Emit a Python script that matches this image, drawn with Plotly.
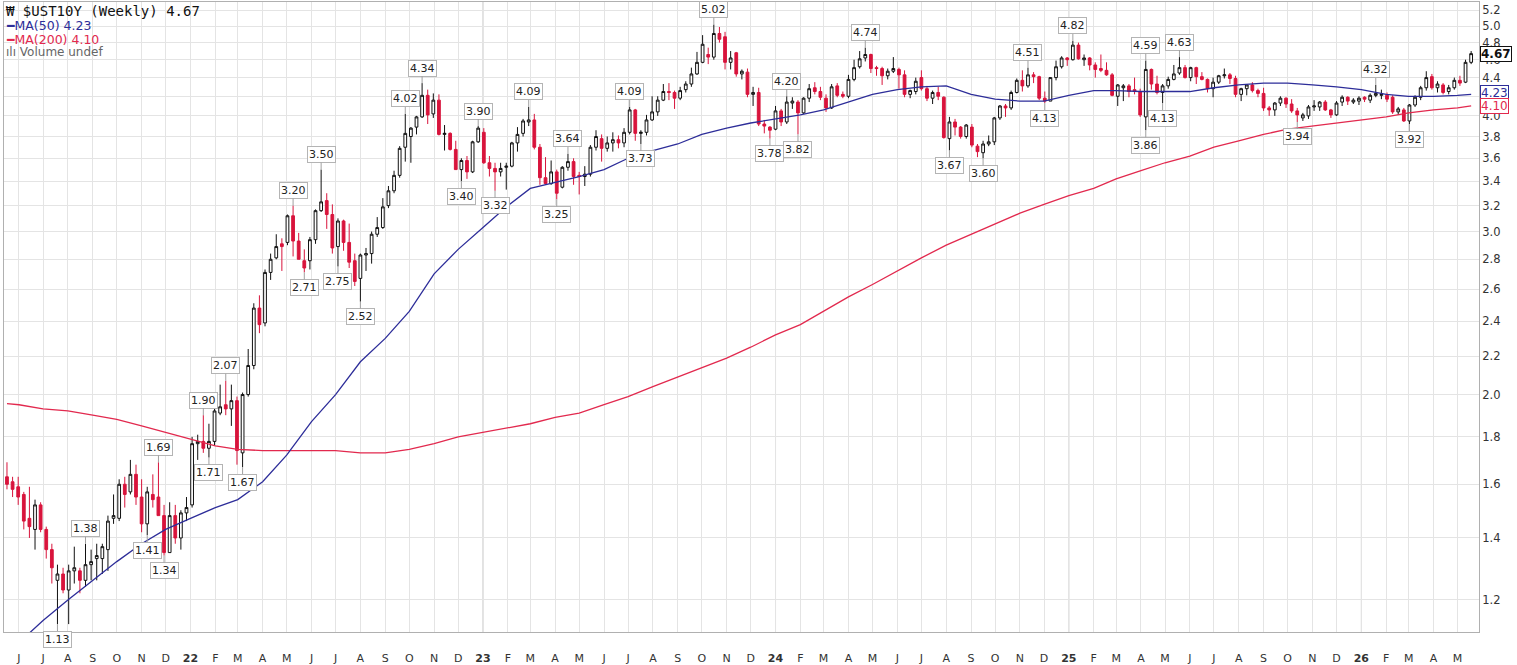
import numpy as np
import pandas as pd
import plotly.graph_objects as go

# weekly OHLC of $UST10Y, first bar = week of 2021-05-17
week_open = [
    1.63, 1.61, 1.59, 1.56, 1.47, 1.43, 1.52, 1.43, 1.36, 1.26, 1.28, 1.23, 1.29, 1.29, 1.26, 1.31, 1.33, 1.33, 1.36, 1.47,
    1.47, 1.60, 1.57, 1.64, 1.55, 1.45, 1.56, 1.55, 1.48, 1.35, 1.48, 1.40, 1.49, 1.52, 1.77, 1.78, 1.75, 1.78, 1.91, 1.95,
    1.93, 1.97, 1.73, 2.00, 2.15, 2.48, 2.39, 2.71, 2.81, 2.91, 2.92, 3.12, 2.93, 2.79, 2.79, 2.94, 3.16, 3.24, 3.13, 2.89,
    3.08, 2.92, 2.79, 2.67, 2.83, 2.84, 2.98, 3.03, 3.20, 3.32, 3.45, 3.70, 3.80, 3.89, 3.99, 4.21, 4.02, 4.16, 3.82, 3.83,
    3.68, 3.50, 3.58, 3.48, 3.75, 3.84, 3.56, 3.51, 3.48, 3.52, 3.53, 3.74, 3.83, 3.94, 3.96, 3.70, 3.43, 3.38, 3.48, 3.35,
    3.52, 3.57, 3.45, 3.44, 3.46, 3.70, 3.78, 3.69, 3.74, 3.77, 3.74, 3.84, 4.06, 3.83, 3.84, 3.96, 4.04, 4.16, 4.25, 4.24,
    4.18, 4.27, 4.33, 4.44, 4.57, 4.66, 4.63, 4.91, 4.87, 4.57, 4.68, 4.44, 4.46, 4.22, 4.24, 3.92, 3.89, 3.87, 4.05, 3.94,
    4.13, 4.14, 4.03, 4.18, 4.29, 4.25, 4.18, 4.08, 4.31, 4.22, 4.20, 4.38, 4.52, 4.62, 4.66, 4.51, 4.50, 4.42, 4.47, 4.49,
    4.43, 4.22, 4.25, 4.40, 4.28, 4.18, 4.24, 4.19, 3.78, 3.94, 3.89, 3.80, 3.89, 3.71, 3.65, 3.73, 3.75, 3.98, 4.10, 4.08,
    4.24, 4.37, 4.31, 4.43, 4.41, 4.18, 4.15, 4.40, 4.52, 4.62, 4.60, 4.77, 4.60, 4.62, 4.54, 4.50, 4.48, 4.43, 4.20, 4.29,
    4.31, 4.27, 4.25, 3.99, 4.49, 4.33, 4.24, 4.31, 4.38, 4.45, 4.51, 4.40, 4.51, 4.41, 4.38, 4.28, 4.35, 4.42, 4.43, 4.39,
    4.22, 4.28, 4.32, 4.26, 4.23, 4.08, 4.06, 4.13, 4.18, 4.12, 4.05, 3.98, 4.00, 4.09, 4.09, 4.14, 4.06, 4.01, 4.14, 4.19,
    4.14, 4.15, 4.19, 4.16, 4.21, 4.21, 4.21, 4.19, 4.04, 4.06, 3.95, 4.11, 4.19, 4.29, 4.41, 4.29, 4.32, 4.25, 4.29, 4.37,
    4.35, 4.57,
]
week_high = [
    1.69, 1.63, 1.63, 1.57, 1.59, 1.54, 1.53, 1.44, 1.38, 1.31, 1.30, 1.31, 1.37, 1.30, 1.38, 1.36, 1.38, 1.38, 1.48, 1.56,
    1.62, 1.63, 1.70, 1.68, 1.62, 1.59, 1.64, 1.69, 1.52, 1.53, 1.52, 1.50, 1.55, 1.80, 1.81, 1.90, 1.86, 1.93, 2.05, 2.07,
    2.05, 1.99, 2.01, 2.24, 2.51, 2.56, 2.73, 2.84, 2.98, 2.95, 3.13, 3.20, 2.99, 2.87, 2.96, 3.17, 3.50, 3.30, 3.21, 3.10,
    3.09, 3.06, 2.84, 2.84, 2.88, 3.00, 3.11, 3.26, 3.36, 3.49, 3.71, 4.02, 3.89, 4.00, 4.34, 4.27, 4.23, 4.22, 3.91, 3.84,
    3.76, 3.60, 3.62, 3.76, 3.90, 3.88, 3.62, 3.56, 3.56, 3.56, 3.75, 3.89, 3.97, 4.09, 4.02, 3.73, 3.61, 3.58, 3.50, 3.53,
    3.64, 3.60, 3.48, 3.53, 3.72, 3.86, 3.82, 3.80, 3.84, 3.81, 3.88, 4.09, 4.07, 3.86, 4.01, 4.20, 4.20, 4.33, 4.34, 4.26,
    4.30, 4.36, 4.51, 4.69, 4.89, 4.74, 5.02, 4.99, 4.93, 4.70, 4.69, 4.49, 4.50, 4.30, 4.29, 3.96, 3.90, 4.10, 4.07, 4.20,
    4.19, 4.16, 4.19, 4.33, 4.35, 4.30, 4.22, 4.33, 4.34, 4.25, 4.43, 4.60, 4.70, 4.74, 4.67, 4.53, 4.52, 4.50, 4.63, 4.51,
    4.48, 4.27, 4.40, 4.48, 4.31, 4.26, 4.30, 4.20, 3.99, 3.97, 3.90, 3.92, 3.92, 3.73, 3.76, 3.81, 3.99, 4.11, 4.12, 4.26,
    4.39, 4.48, 4.51, 4.46, 4.42, 4.25, 4.40, 4.59, 4.64, 4.63, 4.82, 4.80, 4.66, 4.63, 4.57, 4.66, 4.57, 4.45, 4.33, 4.33,
    4.33, 4.40, 4.28, 4.59, 4.50, 4.42, 4.33, 4.41, 4.54, 4.63, 4.54, 4.52, 4.52, 4.46, 4.39, 4.40, 4.43, 4.50, 4.45, 4.42,
    4.29, 4.33, 4.35, 4.28, 4.29, 4.10, 4.14, 4.20, 4.19, 4.17, 4.08, 4.03, 4.11, 4.16, 4.15, 4.16, 4.07, 4.15, 4.21, 4.20,
    4.18, 4.20, 4.20, 4.23, 4.32, 4.27, 4.24, 4.21, 4.09, 4.08, 4.12, 4.21, 4.31, 4.47, 4.44, 4.36, 4.34, 4.32, 4.40, 4.42,
    4.60, 4.70,
]
week_low = [
    1.58, 1.55, 1.52, 1.43, 1.40, 1.36, 1.42, 1.33, 1.25, 1.13, 1.22, 1.13, 1.25, 1.22, 1.24, 1.26, 1.26, 1.28, 1.29, 1.45,
    1.46, 1.51, 1.56, 1.52, 1.42, 1.41, 1.51, 1.48, 1.34, 1.35, 1.38, 1.36, 1.46, 1.51, 1.70, 1.73, 1.71, 1.76, 1.90, 1.90,
    1.85, 1.68, 1.67, 1.99, 2.13, 2.33, 2.37, 2.66, 2.80, 2.72, 2.90, 2.82, 2.80, 2.71, 2.73, 2.91, 3.15, 3.02, 2.84, 2.75,
    2.86, 2.74, 2.62, 2.52, 2.72, 2.77, 2.96, 3.02, 3.18, 3.30, 3.43, 3.57, 3.56, 3.82, 3.98, 3.92, 3.98, 3.81, 3.67, 3.67,
    3.50, 3.40, 3.42, 3.47, 3.74, 3.55, 3.44, 3.32, 3.44, 3.33, 3.52, 3.66, 3.80, 3.90, 3.68, 3.37, 3.37, 3.37, 3.25, 3.34,
    3.49, 3.37, 3.29, 3.36, 3.44, 3.67, 3.57, 3.66, 3.66, 3.69, 3.70, 3.82, 3.76, 3.73, 3.81, 3.95, 4.00, 4.15, 4.16, 4.07,
    4.16, 4.24, 4.30, 4.43, 4.56, 4.55, 4.60, 4.80, 4.49, 4.49, 4.41, 4.38, 4.19, 4.10, 3.90, 3.83, 3.78, 3.86, 3.90, 3.92,
    4.07, 3.82, 4.02, 4.14, 4.22, 4.16, 4.04, 4.07, 4.19, 4.18, 4.18, 4.36, 4.50, 4.58, 4.45, 4.42, 4.32, 4.38, 4.45, 4.28,
    4.19, 4.18, 4.22, 4.26, 4.15, 4.12, 4.16, 3.78, 3.67, 3.81, 3.78, 3.78, 3.70, 3.61, 3.60, 3.71, 3.72, 3.96, 3.99, 4.06,
    4.23, 4.25, 4.29, 4.34, 4.16, 4.13, 4.15, 4.37, 4.50, 4.53, 4.59, 4.60, 4.53, 4.48, 4.40, 4.46, 4.42, 4.20, 4.10, 4.15,
    4.19, 4.22, 3.99, 3.86, 4.27, 4.22, 4.13, 4.28, 4.37, 4.43, 4.39, 4.36, 4.33, 4.37, 4.24, 4.19, 4.33, 4.39, 4.33, 4.19,
    4.15, 4.21, 4.24, 4.19, 4.05, 4.00, 4.00, 4.10, 4.08, 4.03, 3.94, 3.95, 3.97, 4.05, 4.05, 4.05, 3.98, 4.00, 4.10, 4.11,
    4.12, 4.11, 4.14, 4.13, 4.19, 4.17, 4.14, 4.02, 4.01, 3.94, 3.92, 4.09, 4.16, 4.26, 4.27, 4.24, 4.22, 4.22, 4.27, 4.31,
    4.34, 4.55,
]
week_close = [
    1.60, 1.58, 1.55, 1.46, 1.44, 1.52, 1.43, 1.36, 1.30, 1.28, 1.23, 1.29, 1.30, 1.26, 1.31, 1.32, 1.34, 1.37, 1.46, 1.48,
    1.60, 1.56, 1.64, 1.55, 1.45, 1.57, 1.54, 1.48, 1.35, 1.48, 1.40, 1.49, 1.51, 1.77, 1.78, 1.75, 1.78, 1.92, 1.94, 1.93,
    1.97, 1.74, 2.00, 2.15, 2.48, 2.38, 2.71, 2.80, 2.89, 2.89, 3.12, 2.93, 2.80, 2.74, 2.94, 3.16, 3.23, 3.13, 2.88, 3.08,
    2.92, 2.78, 2.65, 2.83, 2.84, 2.98, 3.03, 3.19, 3.32, 3.45, 3.69, 3.83, 3.88, 3.99, 4.21, 4.01, 4.16, 3.82, 3.83, 3.68,
    3.50, 3.58, 3.48, 3.75, 3.88, 3.56, 3.51, 3.48, 3.51, 3.53, 3.74, 3.82, 3.95, 3.96, 3.70, 3.43, 3.38, 3.48, 3.30, 3.52,
    3.57, 3.44, 3.44, 3.46, 3.70, 3.80, 3.69, 3.74, 3.77, 3.74, 3.84, 4.06, 3.83, 3.84, 3.96, 4.04, 4.16, 4.25, 4.24, 4.18,
    4.26, 4.33, 4.44, 4.57, 4.78, 4.63, 4.91, 4.84, 4.57, 4.62, 4.44, 4.47, 4.22, 4.24, 3.92, 3.90, 3.86, 4.05, 3.94, 4.14,
    4.15, 4.03, 4.18, 4.28, 4.25, 4.19, 4.08, 4.30, 4.21, 4.20, 4.38, 4.51, 4.61, 4.66, 4.50, 4.50, 4.42, 4.47, 4.50, 4.43,
    4.22, 4.26, 4.36, 4.28, 4.18, 4.24, 4.20, 3.79, 3.94, 3.89, 3.80, 3.91, 3.72, 3.66, 3.73, 3.75, 3.98, 4.10, 4.08, 4.24,
    4.37, 4.31, 4.43, 4.41, 4.18, 4.15, 4.40, 4.52, 4.62, 4.60, 4.77, 4.61, 4.62, 4.54, 4.49, 4.48, 4.43, 4.21, 4.32, 4.31,
    4.25, 4.25, 4.01, 4.49, 4.33, 4.24, 4.31, 4.38, 4.44, 4.51, 4.40, 4.51, 4.41, 4.38, 4.28, 4.35, 4.42, 4.43, 4.39, 4.22,
    4.28, 4.32, 4.26, 4.23, 4.08, 4.06, 4.13, 4.18, 4.12, 4.05, 4.01, 4.01, 4.09, 4.10, 4.14, 4.06, 4.01, 4.13, 4.19, 4.15,
    4.16, 4.18, 4.17, 4.21, 4.23, 4.22, 4.17, 4.04, 4.07, 3.95, 4.11, 4.19, 4.29, 4.40, 4.29, 4.33, 4.24, 4.29, 4.37, 4.34,
    4.57, 4.67,
]
weeks = pd.date_range("2021-05-17", periods=len(week_close), freq="W-MON")

# moving averages, one point per month
ma_dates = (["2021-05-17"]
            + [d.strftime("%Y-%m-%d") for d in pd.date_range("2021-06-01", "2026-05-01", freq="MS")]
            + ["2026-05-18"])
ma50 = [
    1.05, 1.08, 1.14, 1.20, 1.26, 1.32, 1.38, 1.43, 1.47, 1.51, 1.54, 1.61, 1.72, 1.87, 2.00, 2.17, 2.30, 2.46,
    2.70, 2.87, 3.03, 3.20, 3.34, 3.39, 3.44, 3.50, 3.60, 3.67, 3.73, 3.82, 3.88, 3.93, 3.97, 4.01, 4.06, 4.14,
    4.22, 4.27, 4.30, 4.31, 4.22, 4.17, 4.15, 4.15, 4.21, 4.26, 4.26, 4.25, 4.25, 4.25, 4.29, 4.32, 4.34, 4.34,
    4.32, 4.30, 4.27, 4.22, 4.20, 4.20, 4.21, 4.22,
]
ma200 = [
    1.955, 1.95, 1.93, 1.92, 1.90, 1.88, 1.85, 1.82, 1.79, 1.76, 1.745, 1.74, 1.74, 1.74, 1.74, 1.73, 1.73, 1.745,
    1.77, 1.80, 1.82, 1.84, 1.86, 1.89, 1.91, 1.95, 1.99, 2.04, 2.09, 2.14, 2.19, 2.25, 2.32, 2.38, 2.46, 2.55,
    2.63, 2.72, 2.81, 2.90, 2.98, 3.06, 3.14, 3.21, 3.28, 3.34, 3.42, 3.49, 3.56, 3.62, 3.70, 3.76, 3.82, 3.87,
    3.90, 3.93, 3.96, 3.99, 4.03, 4.06, 4.08, 4.10,
]
ma50_last = 4.23
ma200_last = 4.10

# bars carrying a swing high / swing low label
peak_bars = [14, 27, 35, 39, 51, 56, 71, 74, 84, 93, 100, 111, 126, 139, 153, 182, 190, 203, 209, 244]
trough_bars = [9, 25, 28, 36, 42, 53, 59, 63, 81, 87, 98, 113, 136, 141, 168, 174, 185, 203, 206, 230, 250]

y_ticks = [1.2, 1.4, 1.6, 1.8, 2.0, 2.2, 2.4, 2.6, 2.8, 3.0, 3.2, 3.4, 3.6, 3.8, 4.0, 4.2, 4.4, 4.6, 4.8, 5.0, 5.2]

RED = "#d8143c"
BLUE = "#2d2d99"
MA_RED = "#e2294e"
FONT = "DejaVu Sans"

fig = go.Figure()

fig.add_trace(go.Candlestick(
    x=weeks, open=week_open, high=week_high, low=week_low, close=week_close,
    increasing=dict(line=dict(color="#111111", width=1), fillcolor="white"),
    decreasing=dict(line=dict(color=RED, width=1), fillcolor=RED),
    whiskerwidth=0,
    name="$UST10Y",
))

fig.add_trace(go.Scatter(x=ma_dates, y=ma200, mode="lines",
                         line=dict(color=MA_RED, width=1.3), name="MA(200)"))
fig.add_trace(go.Scatter(x=ma_dates, y=ma50, mode="lines",
                         line=dict(color=BLUE, width=1.3), name="MA(50)"))

# month ticks, year shown as bold two digits
months = pd.date_range("2021-06-01", "2026-05-01", freq="MS")
tick_text = [f"<b>{d.strftime('%y')}</b>" if d.month == 1 else d.strftime("%b")[0] for d in months]

shapes = []
for d in months:
    if d.month == 1:
        shapes.append(dict(type="line", xref="x", yref="paper", x0=d, x1=d, y0=0, y1=1,
                           line=dict(color="#c4c4c4", width=1), layer="below"))

annotations = []
label_style = dict(showarrow=True, arrowhead=0, arrowwidth=1, arrowcolor="#a0a0a0", ax=0,
                   bgcolor="white", bordercolor="#b4b4b4", borderwidth=1, borderpad=1,
                   font=dict(family=FONT, size=11, color="#222222"))
for i in peak_bars:
    annotations.append(dict(x=weeks[i], y=np.log10(week_high[i]), text=f"{week_high[i]:.2f}",
                            ay=-15, **label_style))
for i in trough_bars:
    annotations.append(dict(x=weeks[i], y=np.log10(week_low[i]), text=f"{week_low[i]:.2f}",
                            ay=15, **label_style))

# last value boxes on the price scale
for val, col, txt in [(week_close[-1], "#111111", f"<b>{week_close[-1]:.2f}</b>"),
                      (ma50_last, BLUE, f"{ma50_last:.2f}"),
                      (ma200_last, MA_RED, f"{ma200_last:.2f}")]:
    annotations.append(dict(xref="paper", x=1.0, xanchor="left", xshift=1, yref="y", y=np.log10(val),
                            text=txt, showarrow=False, bgcolor="white", bordercolor=col, borderwidth=1,
                            borderpad=0, font=dict(family=FONT, size=12, color=col)))

# legend block at top left
legend_lines = [
    (f"₩ $UST10Y (Weekly) {week_close[-1]:.2f}", "#111111", "DejaVu Sans Mono", 14, -9),
    (f"<b>━</b>MA(50) {ma50_last:.2f}", BLUE, FONT, 12.5, -23),
    (f"<b>━</b>MA(200) {ma200_last:.2f}", MA_RED, FONT, 12.5, -37),
    ("ılı Volume undef", "#666666", FONT, 12, -50),
]
for txt, col, fam, size, shift in legend_lines:
    annotations.append(dict(xref="paper", yref="paper", x=0, y=1, xanchor="left", yanchor="middle",
                            xshift=0, yshift=shift, text=txt, showarrow=False,
                            font=dict(family=fam, size=size, color=col)))

fig.update_layout(
    width=1517, height=665,
    margin=dict(l=4, r=38, t=2, b=33),
    paper_bgcolor="white", plot_bgcolor="white",
    showlegend=False,
    font=dict(family=FONT, size=11, color="#333333"),
    shapes=shapes,
    annotations=annotations,
    xaxis=dict(
        type="date", automargin=False,
        range=["2021-05-13 07:00", "2026-05-27 19:00"],
        tickvals=months, ticktext=tick_text,
        showgrid=True, gridcolor="#e4e4e4", gridwidth=1,
        showline=True, mirror=True, linecolor="#b0b0b0",
        ticks="", ticklabelstandoff=16,
        tickfont=dict(family=FONT, size=11, color="#333333"),
        rangeslider=dict(visible=False),
    ),
    yaxis=dict(
        type="log", side="right", automargin=False,
        range=[np.log10(1.108), np.log10(5.31)],
        tickvals=y_ticks, ticktext=[f"{v:.1f}" for v in y_ticks],
        showgrid=True, gridcolor="#e4e4e4", gridwidth=1,
        showline=True, mirror=True, linecolor="#b0b0b0",
        ticks="", tickfont=dict(family=FONT, size=11.5, color="#333333"),
        zeroline=False,
    ),
)

# the page's default body margin would push the 1517px figure off the window
fig.write_html("out.html", config={"displayModeBar": False},
               post_script="document.body.style.margin = '0px';")
